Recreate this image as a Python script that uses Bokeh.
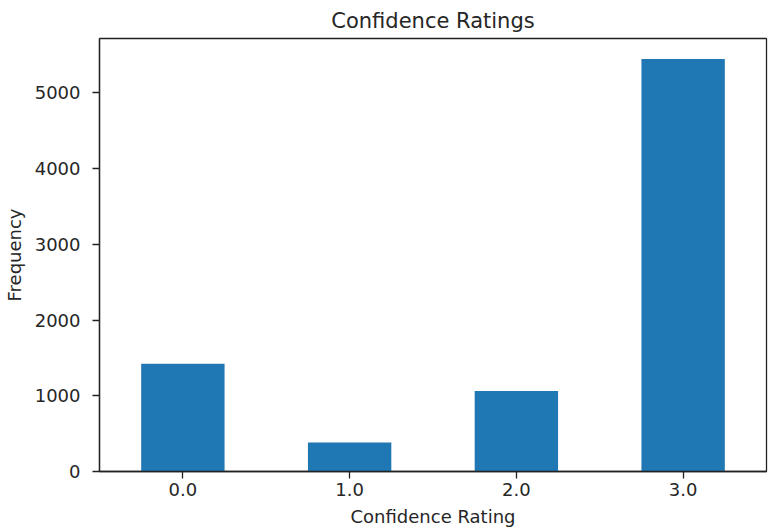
from bokeh.plotting import figure
from bokeh.models import FixedTicker, Range1d
from bokeh.embed import file_html
from bokeh.resources import INLINE

ratings = [0.0, 1.0, 2.0, 3.0]
tick_labels = ["0.0", "1.0", "2.0", "3.0"]
frequency = [1424, 382, 1064, 5445]
y_ticks = [0, 1000, 2000, 3000, 4000, 5000]

FONT = "DejaVu Sans"
TXT = "#262626"

p = figure(width=768, height=529, output_backend="svg", toolbar_location=None,
           title="Confidence Ratings",
           x_range=Range1d(-0.5, 3.5), y_range=Range1d(0, max(frequency) * 1.05),
           min_border_left=97, min_border_right=2, min_border_top=37, min_border_bottom=57)

p.vbar(x=ratings, top=frequency, width=0.5, color="#1f77b4", line_color=None)

p.title.align = "center"
p.title.text_font = FONT
p.title.text_font_size = "21px"
p.title.text_font_style = "normal"
p.title.text_color = TXT
p.title.standoff = 12
p.title.offset = 0

p.xgrid.visible = False
p.ygrid.visible = False
p.outline_line_color = "#222222"
p.outline_line_width = 1.3
p.outline_line_alpha = 1

p.xaxis.ticker = FixedTicker(ticks=ratings)
p.xaxis.major_label_overrides = {r: t for r, t in zip(ratings, tick_labels)}
p.yaxis.ticker = FixedTicker(ticks=y_ticks)
p.xaxis.axis_label = "Confidence Rating"
p.yaxis.axis_label = "Frequency"

for ax in (p.xaxis[0], p.yaxis[0]):
    ax.axis_line_color = "#222222"
    ax.axis_line_width = 1.3
    ax.major_tick_line_color = "#222222"
    ax.major_tick_line_width = 1.3
    ax.major_tick_out = 7
    ax.major_tick_in = 0
    ax.minor_tick_line_color = None
    ax.major_label_text_font = FONT
    ax.major_label_text_font_size = "18px"
    ax.major_label_text_color = TXT
    ax.axis_label_text_font = FONT
    ax.axis_label_text_font_size = "18px"
    ax.axis_label_text_font_style = "normal"
    ax.axis_label_text_color = TXT

p.xaxis.major_label_standoff = 4
p.xaxis.axis_label_standoff = 7
p.yaxis.major_label_standoff = 12
p.yaxis.axis_label_standoff = 7
p.yaxis.major_label_orientation = "horizontal"

open("out.html", "w").write(file_html(p, INLINE))
